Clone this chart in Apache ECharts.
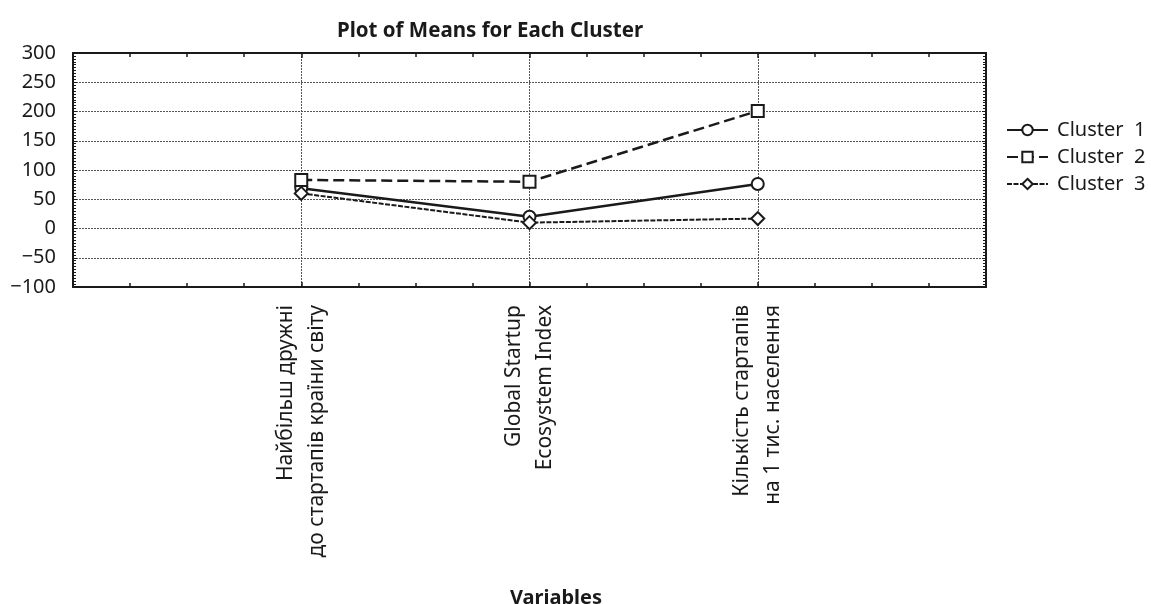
<!DOCTYPE html>
<html>
<head>
<meta charset="utf-8">
<script src="https://cdn.jsdelivr.net/npm/echarts@6/dist/echarts.min.js"></script>
<style>
  html, body { margin: 0; padding: 0; background: #fff; }
  #main { width: 1151px; height: 604px; }
</style>
</head>
<body>
<div id="main"></div>
<script>
// variables on x (placed at 1, 2, 3)
const categories = [
  'Найбільш дружні\nдо стартапів країни світу',
  'Global Startup\nEcosystem Index',
  'Кількість стартапів\nна 1 тис. населення'
];
const cluster1 = [69, 20, 76];
const cluster2 = [83, 80, 201];
const cluster3 = [60, 10, 17];
const yTicks = [-100, -50, 0, 50, 100, 150, 200, 250, 300];

const font = 'Noto Sans';
const ink = '#1a1a1a';
const toPoints = arr => arr.map((v, i) => [i + 1, v]);

const chart = echarts.init(document.getElementById('main'));

const xCommon = {
  type: 'value',
  min: 0,
  max: 4,
  interval: 1,
  axisLine: { show: true, onZero: false, lineStyle: { color: ink, width: 2 } },
  axisTick: { show: true, inside: true, length: 5, lineStyle: { color: ink, width: 1.5 } },
  minorTick: { show: true, splitNumber: 4, length: 4, lineStyle: { color: ink, width: 1.5 } },
  splitLine: { show: false }
};
const yCommon = {
  type: 'value',
  min: yTicks[0],
  max: yTicks[yTicks.length - 1],
  interval: 50,
  axisLine: { show: true, onZero: false, lineStyle: { color: ink, width: 2 } },
  axisTick: { show: true, inside: true, length: 4, lineStyle: { color: ink, width: 1 } },
  minorTick: { show: true, splitNumber: 10, length: 3, lineStyle: { color: ink, width: 1 } },
  splitLine: { show: false }
};

function seriesOf(name, data, symbol, lineType, size, width) {
  return {
    name: name,
    type: 'line',
    data: toPoints(data),
    symbol: symbol,
    symbolSize: size,
    showSymbol: true,
    lineStyle: { color: ink, width: width, type: lineType },
    itemStyle: { color: '#fff', borderColor: ink, borderWidth: 2 },
    z: 5
  };
}

chart.setOption({
  backgroundColor: '#fff',
  animation: false,
  title: [
    {
      text: 'Plot of Means for Each Cluster',
      left: 485,
      textAlign: 'center',
      top: 16,
      textStyle: { fontFamily: font, fontSize: 20.5, fontWeight: 'bold', color: ink }
    },
    {
      text: 'Variables',
      left: 551,
      textAlign: 'center',
      top: 583,
      textStyle: { fontFamily: font, fontSize: 20, fontWeight: 'bold', color: ink }
    }
  ],
  legend: {
    orient: 'vertical',
    left: 1006,
    top: 120,
    padding: 0,
    itemWidth: 41,
    itemHeight: 13,
    itemGap: 7,
    textStyle: { fontFamily: font, fontSize: 20, lineHeight: 20, color: ink, padding: [0, 0, 0, 4] },
    data: ['Cluster  1', 'Cluster  2', 'Cluster  3']
  },
  grid: { left: 73, right: 165, top: 53, bottom: 317 },
  xAxis: [
    Object.assign({}, xCommon, {
      position: 'bottom',
      axisLabel: {
        rotate: 90,
        margin: 18,
        fontFamily: font,
        fontSize: 21,
        lineHeight: 31,
        color: ink,
        formatter: v => (v >= 1 && v <= 3 && Number.isInteger(v)) ? categories[v - 1] : ''
      },
      splitLine: {
        show: true,
        lineStyle: { color: '#555', width: 1, type: [2, 1] }
      }
    }),
    Object.assign({}, xCommon, { position: 'top', axisLabel: { show: false } })
  ],
  yAxis: [
    Object.assign({}, yCommon, {
      position: 'left',
      axisLabel: {
        margin: 17,
        fontFamily: font,
        fontSize: 20,
        color: ink,
        formatter: v => String(v).replace('-', '\u2212')
      },
      splitLine: {
        show: true,
        lineStyle: { color: '#555', width: 1, type: [2, 1] }
      }
    }),
    Object.assign({}, yCommon, { position: 'right', axisLabel: { show: false } })
  ],
  series: [
    seriesOf('Cluster  1', cluster1, 'circle', 'solid', 12, 2.5),
    seriesOf('Cluster  2', cluster2, 'rect', [11, 5], 12, 2.5),
    seriesOf('Cluster  3', cluster3, 'diamond', [5, 1.5], 13, 2)
  ]
});
</script>
</body>
</html>
